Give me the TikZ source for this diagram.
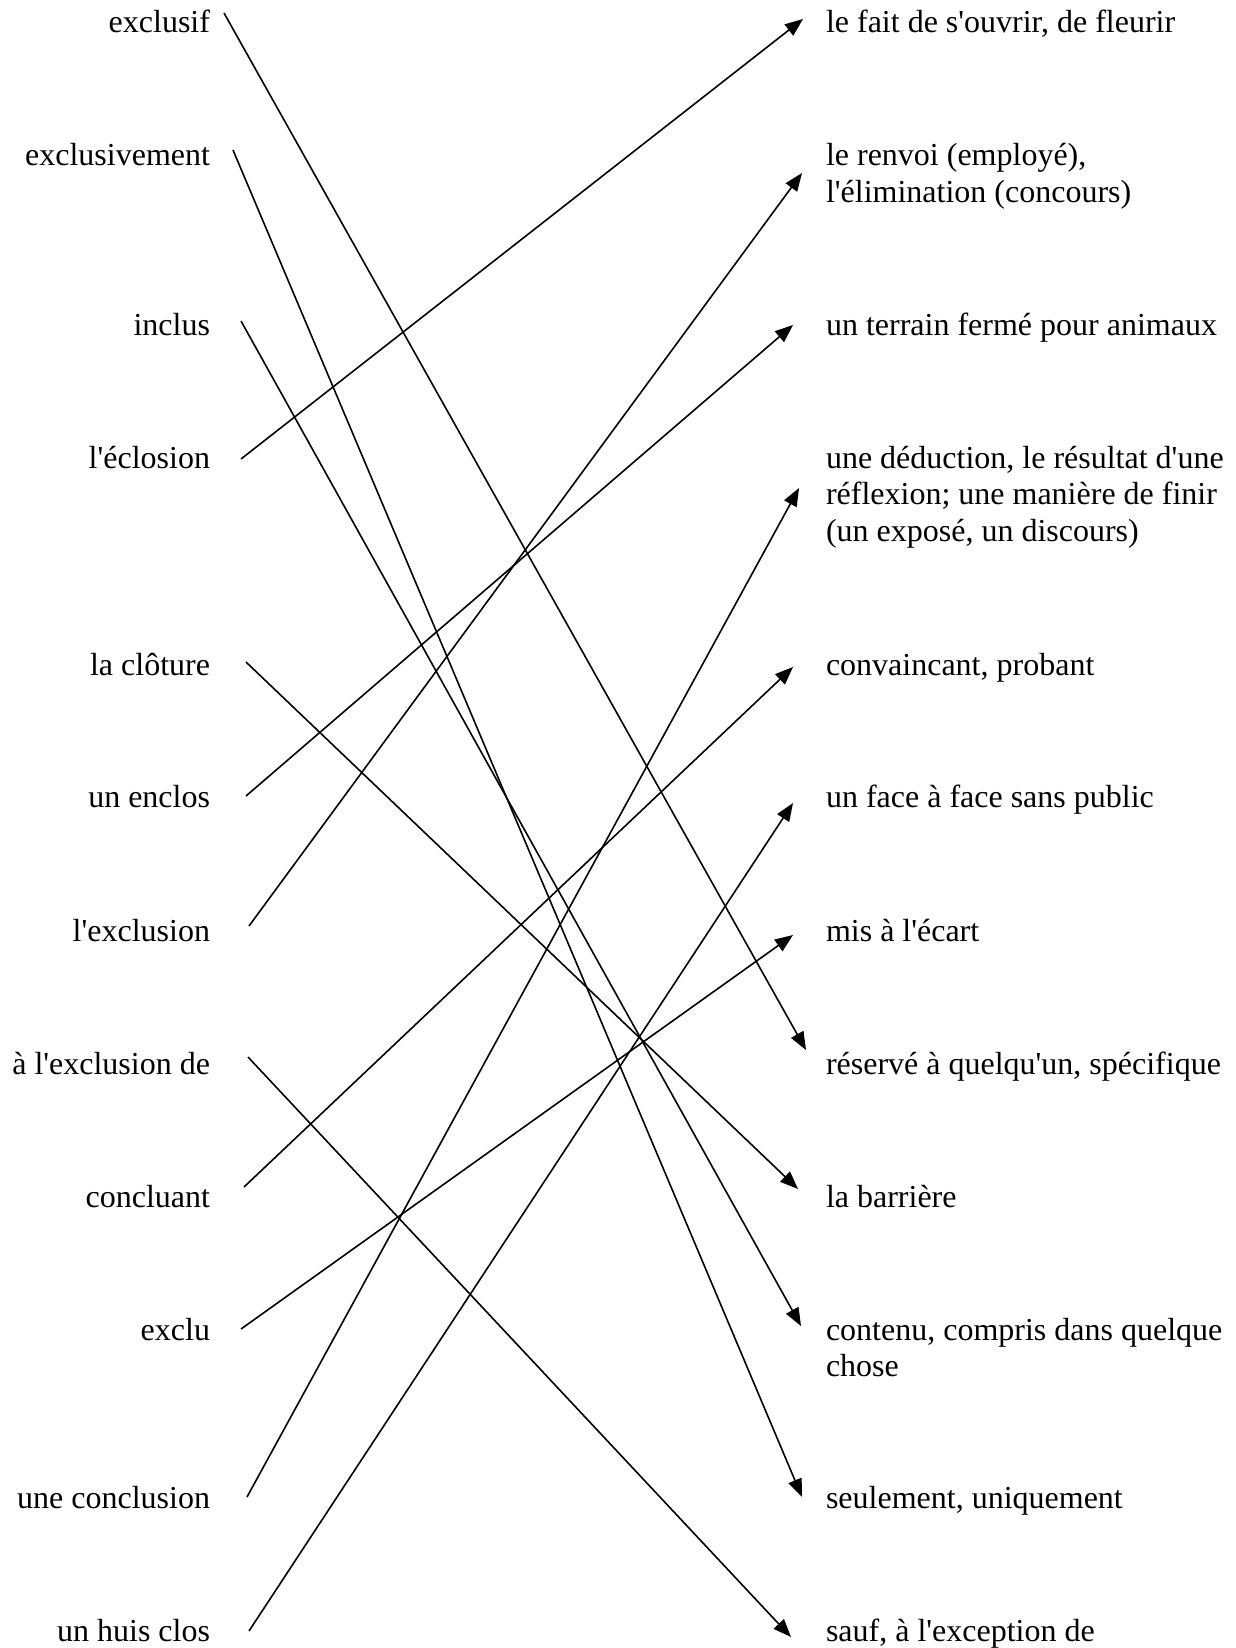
\documentclass[tikz,border=0pt]{standalone}
\usepackage{fontspec}
\setmainfont{Liberation Serif}[Ligatures=TeXOff]
\usetikzlibrary{arrows.meta}
\begin{document}
\begin{tikzpicture}[x=1pt,y=-1pt,
  lbl/.style={inner sep=0pt,outer sep=0pt,font=\fontsize{32}{36.8}\selectfont,anchor=base east},
  rbl/.style={inner sep=0pt,outer sep=0pt,font=\fontsize{32}{36.8}\selectfont,anchor=base west},
  link/.style={line width=1.6pt,-{Triangle[length=18pt,width=14pt]}}]
\useasboundingbox (0,0) rectangle (1235,1648);
% left terms
\node[lbl] (l1) at (210,33) {exclusif};
\node[lbl] (l2) at (210,166) {exclusivement};
\node[lbl] (l3) at (210,335) {inclus};
\node[lbl] (l4) at (210,468) {l'éclosion};
\node[lbl] (l5) at (210,675) {la clôture};
\node[lbl] (l6) at (210,807) {un enclos};
\node[lbl] (l7) at (210,941) {l'exclusion};
\node[lbl] (l8) at (210,1074) {à l'exclusion de};
\node[lbl] (l9) at (210,1207) {concluant};
\node[lbl] (l10) at (210,1340) {exclu};
\node[lbl] (l11) at (210,1508) {une conclusion};
\node[lbl] (l12) at (210,1641) {un huis clos};
% right definitions
\node[rbl] (r1) at (826,33) {le fait de s'ouvrir, de fleurir};
\node[rbl] (r2) at (826,166) {\begin{tabular}[t]{@{}l@{}}le renvoi (employé),\\l'élimination (concours)\end{tabular}};
\node[rbl] (r3) at (826,335) {un terrain fermé pour animaux};
\node[rbl] (r4) at (826,468) {\begin{tabular}[t]{@{}l@{}}une déduction, le résultat d'une\\réflexion; une manière de finir\\(un exposé, un discours)\end{tabular}};
\node[rbl] (r5) at (826,675) {convaincant, probant};
\node[rbl] (r6) at (826,807) {un face à face sans public};
\node[rbl] (r7) at (826,941) {mis à l'écart};
\node[rbl] (r8) at (826,1074) {réservé à quelqu'un, spécifique};
\node[rbl] (r9) at (826,1207) {la barrière};
\node[rbl] (r10) at (826,1340) {\begin{tabular}[t]{@{}l@{}}contenu, compris dans quelque\\chose\end{tabular}};
\node[rbl] (r11) at (826,1508) {seulement, uniquement};
\node[rbl] (r12) at (826,1641) {sauf, à l'exception de};
% connector ends
\coordinate (s1) at (224,13);   \coordinate (t1) at (806,1050);
\coordinate (s2) at (233,150);  \coordinate (t2) at (802,1497);
\coordinate (s3) at (241,321);  \coordinate (t3) at (801,1326);
\coordinate (s4) at (241,459);  \coordinate (t4) at (803,19);
\coordinate (s5) at (246,662);  \coordinate (t5) at (798,1189);
\coordinate (s6) at (246,796);  \coordinate (t6) at (793,325);
\coordinate (s7) at (249,926);  \coordinate (t7) at (802,173);
\coordinate (s8) at (248,1057); \coordinate (t8) at (791,1637);
\coordinate (s9) at (244,1187); \coordinate (t9) at (793,667);
\coordinate (s10) at (241,1329); \coordinate (t10) at (793,935);
\coordinate (s11) at (247,1497); \coordinate (t11) at (799,488);
\coordinate (s12) at (249,1631); \coordinate (t12) at (793,803);
% connectors
\draw[link] (s1) -- (t1);
\draw[link] (s2) -- (t2);
\draw[link] (s3) -- (t3);
\draw[link] (s4) -- (t4);
\draw[link] (s5) -- (t5);
\draw[link] (s6) -- (t6);
\draw[link] (s7) -- (t7);
\draw[link] (s8) -- (t8);
\draw[link] (s9) -- (t9);
\draw[link] (s10) -- (t10);
\draw[link] (s11) -- (t11);
\draw[link] (s12) -- (t12);
\end{tikzpicture}
\end{document}
